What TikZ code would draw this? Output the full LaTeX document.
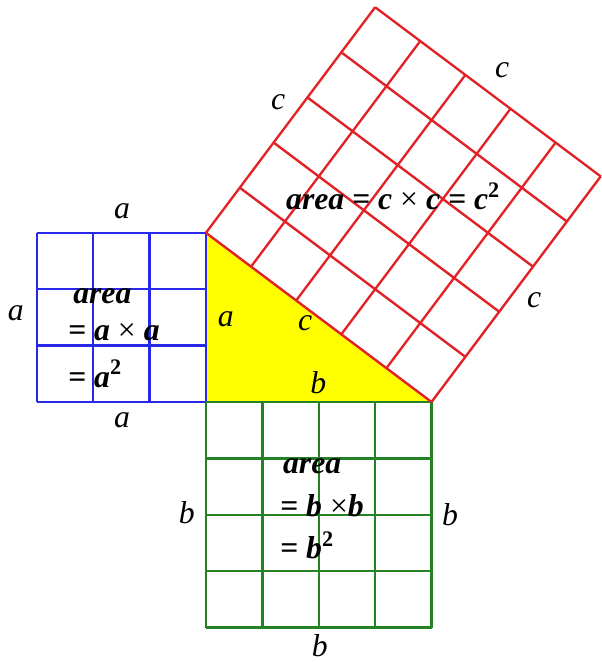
\documentclass[tikz,border=0pt]{standalone}
\usepackage{fontspec}
\setmainfont{Liberation Serif}
\definecolor{sqblue}{RGB}{40,40,235}
\definecolor{sqred}{RGB}{225,35,40}
\definecolor{sqgreen}{RGB}{35,130,35}
\definecolor{triyellow}{RGB}{255,255,0}
\begin{document}
\begin{tikzpicture}[x=1cm,y=1cm,
  gridline/.style={line width=1.2pt},
  lbl/.style={font=\fontsize{16}{19}\selectfont\itshape, inner sep=0pt},
  areatxt/.style={font=\fontsize{16}{19}\selectfont\bfseries\itshape, inner sep=0pt}]
\useasboundingbox (-3.652,-4.610) rectangle (7.021,7.128);
% triangle
\coordinate (A) at (0,3);
\coordinate (B) at (0,0);
\coordinate (C) at (4,0);
\fill[triyellow] (A) -- (B) -- (C) -- cycle;
% blue square a x a
\draw[gridline, sqblue] (-3,0) grid (0,3);
% green square b x b
\draw[gridline, sqgreen] (0,-4) grid (4,0);
% red square c x c on the hypotenuse
\begin{scope}[cm={0.8,-0.6,0.6,0.8,(0,3)}]
  \draw[gridline, sqred] (0,0) grid (5,5);
\end{scope}
% side labels
\node[lbl] (at) at (-1.49,3.39) {a};
\node[lbl] (al) at (-3.37,1.58) {a};
\node[lbl] (ab) at (-1.49,-0.32) {a};
\node[lbl] (ar) at (0.35,1.47) {a};
\node[lbl] (ch) at (1.76,1.40) {c};
\node[lbl] (ctl) at (1.28,5.32) {c};
\node[lbl] (ctr) at (5.25,5.89) {c};
\node[lbl] (cr) at (5.82,1.81) {c};
\node[lbl] (bt) at (1.99,0.34) {b};
\node[lbl] (bl) at (-0.34,-1.97) {b};
\node[lbl] (br) at (4.33,-2.00) {b};
\node[lbl] (bb) at (2.02,-4.32) {b};
% area texts
\node[areatxt] (redarea) at (3.32,3.65) {area = c {\mdseries\upshape ×} c = c\textsuperscript{\upshape 2}};
\node[areatxt, anchor=west] (blue1) at (-2.36,1.88) {area};
\node[areatxt, anchor=west] (blue2) at (-2.45,1.24) {= a {\mdseries\upshape ×} a};
\node[areatxt, anchor=west] (blue3) at (-2.45,0.50) {= a\textsuperscript{\upshape 2}};
\node[areatxt, anchor=west] (green1) at (1.36,-1.13) {area};
\node[areatxt, anchor=west] (green2) at (1.31,-1.83) {= b {\mdseries\upshape ×}b};
\node[areatxt, anchor=west] (green3) at (1.31,-2.54) {= b\textsuperscript{\upshape 2}};
\end{tikzpicture}
\end{document}
